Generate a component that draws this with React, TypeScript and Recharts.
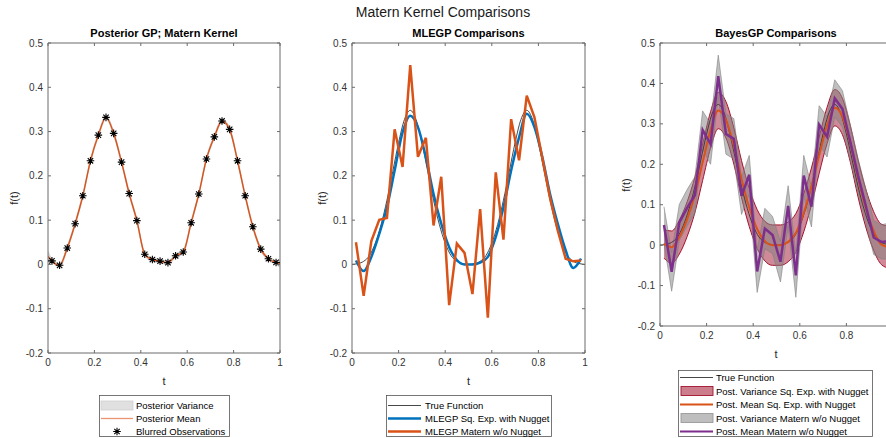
import React from 'react';
import { ComposedChart, Line, Area, XAxis, YAxis } from 'recharts';

// ---------- data ----------
const tObs = [0.017, 0.05, 0.083, 0.117, 0.15, 0.183, 0.217, 0.25, 0.283, 0.317, 0.35, 0.383, 0.417, 0.45, 0.483,
  0.517, 0.55, 0.583, 0.617, 0.65, 0.683, 0.717, 0.75, 0.783, 0.817, 0.85, 0.883, 0.917, 0.95, 0.983];
const tMean1 = [0, 0.017, 0.05, 0.083, 0.117, 0.15, 0.183, 0.217, 0.25, 0.283, 0.317, 0.35, 0.383, 0.417, 0.45, 0.483,
  0.517, 0.55, 0.583, 0.617, 0.65, 0.683, 0.717, 0.75, 0.783, 0.817, 0.85, 0.883, 0.917, 0.95, 0.983, 1];
const tTrue = [0, 0.025, 0.05, 0.075, 0.1, 0.125, 0.15, 0.175, 0.2, 0.225, 0.25, 0.275, 0.3, 0.325, 0.35, 0.375, 0.4,
  0.425, 0.45, 0.475, 0.5, 0.525, 0.55, 0.575, 0.6, 0.625, 0.65, 0.675, 0.7, 0.725, 0.75, 0.775, 0.8, 0.825, 0.85,
  0.875, 0.9, 0.925, 0.95, 0.975, 1];
const trueFunction = [0, 0.002, 0.007, 0.02, 0.048, 0.09, 0.145, 0.21, 0.275, 0.327, 0.348, 0.327, 0.275, 0.21, 0.145,
  0.09, 0.048, 0.02, 0.007, 0.002, 0, 0.002, 0.007, 0.02, 0.048, 0.09, 0.145, 0.21, 0.275, 0.327, 0.348, 0.327, 0.275,
  0.21, 0.145, 0.09, 0.048, 0.02, 0.007, 0.002, 0];

// Panel 1
const blurredObs = [0.008, -0.002, 0.037, 0.092, 0.155, 0.234, 0.292, 0.332, 0.296, 0.231, 0.16, 0.099, 0.023, 0.011,
  0.0075, 0.004, 0.0195, 0.028, 0.094, 0.159, 0.238, 0.288, 0.324, 0.305, 0.234, 0.155, 0.085, 0.0345, 0.0128, 0.0045];
const posteriorMean = [0.018, 0.008, -0.002, 0.037, 0.092, 0.155, 0.234, 0.292, 0.332, 0.296, 0.231, 0.16, 0.099, 0.023,
  0.011, 0.0075, 0.004, 0.0195, 0.028, 0.094, 0.159, 0.238, 0.288, 0.324, 0.305, 0.234, 0.155, 0.085, 0.0345, 0.0128,
  0.0045, 0.002];
const posteriorHalfWidth = [0.012, 0.004, 0.004, 0.004, 0.004, 0.004, 0.004, 0.004, 0.004, 0.004, 0.004, 0.004, 0.004,
  0.004, 0.004, 0.004, 0.004, 0.004, 0.004, 0.004, 0.004, 0.004, 0.004, 0.004, 0.004, 0.004, 0.004, 0.004, 0.004,
  0.004, 0.004, 0.008];

// Panel 2
const mlegpSqExp = [0.009, -0.015, 0.017, 0.069, 0.129, 0.212, 0.298, 0.336, 0.31, 0.242, 0.159, 0.092, 0.039, 0.01,
  0.0, 0.0, 0.004, 0.017, 0.062, 0.129, 0.212, 0.287, 0.34, 0.31, 0.242, 0.159, 0.092, 0.032, -0.008, 0.013];
const mlegpMatern = [0.05, -0.071, 0.053, 0.101, 0.105, 0.305, 0.22, 0.45, 0.243, 0.286, 0.088, 0.198, -0.092, 0.047,
  0.026, -0.067, 0.125, -0.12, 0.208, 0.056, 0.328, 0.235, 0.381, 0.332, 0.24, 0.15, 0.077, 0.013, 0.007, 0.009];

// Panel 3
const bayesSqExpMean = [0.003, -0.005, 0.02, 0.065, 0.125, 0.205, 0.285, 0.333, 0.31, 0.245, 0.163, 0.093, 0.04, 0.01,
  0.0, 0.0, 0.008, 0.03, 0.08, 0.145, 0.222, 0.296, 0.34, 0.318, 0.25, 0.165, 0.092, 0.035, 0.002, -0.005];
const bayesSqExpHalf = [0.035, 0.04, 0.042, 0.043, 0.044, 0.045, 0.045, 0.045, 0.045, 0.045, 0.046, 0.047, 0.048, 0.049,
  0.05, 0.05, 0.049, 0.048, 0.047, 0.046, 0.045, 0.045, 0.045, 0.045, 0.045, 0.046, 0.047, 0.048, 0.05, 0.052];
const bayesMaternMean = [0.05, -0.066, 0.056, 0.093, 0.124, 0.285, 0.25, 0.418, 0.275, 0.263, 0.122, 0.174, -0.065,
  0.041, 0.025, -0.041, 0.097, -0.075, 0.172, 0.095, 0.298, 0.268, 0.363, 0.337, 0.255, 0.172, 0.098, 0.019, 0.008, 0.01];
const bayesMaternHalf = [0.045, 0.048, 0.045, 0.045, 0.045, 0.047, 0.05, 0.052, 0.05, 0.05, 0.046, 0.048, 0.052, 0.05,
  0.046, 0.05, 0.05, 0.054, 0.05, 0.05, 0.047, 0.05, 0.046, 0.045, 0.042, 0.042, 0.042, 0.042, 0.042, 0.045];

const xTicks = [0, 0.2, 0.4, 0.6, 0.8, 1];
const yTicks = [-0.2, -0.1, 0, 0.1, 0.2, 0.3, 0.4, 0.5];

const mainTitle = 'Matern Kernel Comparisons';
const panelTitles = ['Posterior GP; Matern Kernel', 'MLEGP Comparisons', 'BayesGP Comparisons'];
const legend1 = ['Posterior Variance', 'Posterior Mean', 'Blurred Observations'];
const legend2 = ['True Function', 'MLEGP Sq. Exp. with Nugget', 'MLEGP Matern w/o Nugget'];
const legend3 = ['True Function', 'Post. Variance Sq. Exp. with Nugget', 'Post. Mean Sq. Exp. with Nugget',
  'Post. Variance Matern w/o Nugget', 'Post. Mean Matern w/o Nugget'];

// ---------- builders ----------
const zip = (ts: number[], vs: number[]) => ts.map((t, i) => ({ t, v: vs[i] }));
const band = (ts: number[], m: number[], h: number[]) => ts.map((t, i) => ({ t, lo: m[i] - h[i], hi: m[i] + h[i] }));

const trueData = zip(tTrue, trueFunction);
const p1Band = band(tMean1, posteriorMean, posteriorHalfWidth);
const p1Mean = zip(tMean1, posteriorMean);
const p1Obs = zip(tObs, blurredObs);
const p2Sq = zip(tObs, mlegpSqExp);
const p2Mat = zip(tObs, mlegpMatern);
const p3SqBand = band(tObs, bayesSqExpMean, bayesSqExpHalf);
const p3SqMean = zip(tObs, bayesSqExpMean);
const p3MatBand = band(tObs, bayesMaternMean, bayesMaternHalf);
const p3MatMean = zip(tObs, bayesMaternMean);

// ---------- styling ----------
const FONT = '"Liberation Sans", Arial, Helvetica, sans-serif';
const AX = '#6b6b6b';
const TICK_TXT = '#333333';
const TL = 3;

const fmt = (v: number) => (Math.abs(v) < 1e-9 ? '0' : Number.isInteger(v) ? String(v) : v.toFixed(1));

const BottomTick = (p: any) => {
  const { x, y, payload, maxX } = p;
  const showText = maxX == null || x <= maxX;
  return (
    <g>
      <line x1={x} x2={x} y1={y} y2={y - TL} stroke={AX} strokeWidth={1} />
      {showText && (
        <text x={x} y={y + 13} textAnchor="middle" fontSize={10} fontFamily={FONT} fill={TICK_TXT}>{fmt(payload.value)}</text>
      )}
    </g>
  );
};
const TopTick = (p: any) => {
  const { x, y } = p;
  return <line x1={x} x2={x} y1={y} y2={y + TL} stroke={AX} strokeWidth={1} />;
};
const LeftTick = (p: any) => {
  const { x, y, payload } = p;
  return (
    <g>
      <line x1={x} x2={x + TL} y1={y} y2={y} stroke={AX} strokeWidth={1} />
      <text x={x - 5} y={y + 3.5} textAnchor="end" fontSize={10} fontFamily={FONT} fill={TICK_TXT}>{fmt(payload.value)}</text>
    </g>
  );
};
const RightTick = (p: any) => {
  const { x, y } = p;
  return <line x1={x} x2={x - TL} y1={y} y2={y} stroke={AX} strokeWidth={1} />;
};

const StarDot = (p: any) => {
  const { cx, cy } = p;
  if (cx == null || cy == null) return null;
  const r = 3.8;
  const d = 2.7;
  return (
    <path
      d={`M${cx - r},${cy}H${cx + r}M${cx},${cy - r}V${cy + r}M${cx - d},${cy - d}L${cx + d},${cy + d}M${cx - d},${cy + d}L${cx + d},${cy - d}`}
      stroke="#000"
      strokeWidth={1.1}
      fill="none"
    />
  );
};

const axes = (maxLabelX?: number) => [
  <XAxis key="xb" type="number" dataKey="t" domain={[0, 1]} ticks={xTicks} interval={0} tickSize={0} tickMargin={0}
    height={30} axisLine={{ stroke: AX }} tickLine={false} tick={<BottomTick maxX={maxLabelX} />} allowDataOverflow />,
  <XAxis key="xt" xAxisId="top" orientation="top" type="number" dataKey="t" domain={[0, 1]} ticks={xTicks} interval={0}
    tickSize={0} tickMargin={0} height={1} axisLine={{ stroke: AX }} tickLine={false} tick={<TopTick />} allowDataOverflow />,
  <YAxis key="yl" type="number" domain={[-0.2, 0.5]} ticks={yTicks} interval={0} tickSize={0} tickMargin={0} width={30}
    axisLine={{ stroke: AX }} tickLine={false} tick={<LeftTick />} allowDataOverflow />,
  <YAxis key="yr" yAxisId="right" orientation="right" type="number" domain={[-0.2, 0.5]} ticks={yTicks} interval={0}
    tickSize={0} tickMargin={0} width={1} axisLine={{ stroke: AX }} tickLine={false} tick={<RightTick />} allowDataOverflow />,
];

const ORANGE = '#D95319';
const BLUE = '#0072BD';
const PURPLE = '#7E2F8E';
const DARKRED = '#A2142F';

const LegendBox = ({ x, y, w, h }: any) => (
  <rect x={x} y={y} width={w} height={h} fill="#fff" stroke="#555" strokeWidth={0.8} />
);

const Overlay = () => (
  <svg width={886} height={438} style={{ position: 'absolute', left: 0, top: 0, pointerEvents: 'none' }} fontFamily={FONT}>
    <text x={443} y={17} textAnchor="middle" fontSize={14} fill="#1a1a1a">{mainTitle}</text>
    <text x={164} y={37} textAnchor="middle" fontSize={11} fontWeight="bold" fill="#000">{panelTitles[0]}</text>
    <text x={468.5} y={37} textAnchor="middle" fontSize={11} fontWeight="bold" fill="#000">{panelTitles[1]}</text>
    <text x={776} y={37} textAnchor="middle" fontSize={11} fontWeight="bold" fill="#000">{panelTitles[2]}</text>

    <text transform="translate(18,198) rotate(-90)" textAnchor="middle" fontSize={11} fill="#262626">f(t)</text>
    <text transform="translate(326,198) rotate(-90)" textAnchor="middle" fontSize={11} fill="#262626">f(t)</text>
    <text transform="translate(630,185) rotate(-90)" textAnchor="middle" fontSize={11} fill="#262626">f(t)</text>
    <text x={164} y={385} textAnchor="middle" fontSize={11} fill="#262626">t</text>
    <text x={468.5} y={385} textAnchor="middle" fontSize={11} fill="#262626">t</text>
    <text x={776} y={358} textAnchor="middle" fontSize={11} fill="#262626">t</text>

    {/* legend 1 */}
    <LegendBox x={99.5} y={395.5} w={130} h={41} />
    <rect x={101} y={401} width={32} height={9} fill="#E0E0E0" stroke="#CFCFCF" strokeWidth={0.8} />
    <line x1={101} x2={133} y1={418.5} y2={418.5} stroke="#EA9470" strokeWidth={1.3} />
    <StarDot cx={117} cy={431.5} />
    <text x={136} y={408.5} fontSize={9.5} fill="#000">{legend1[0]}</text>
    <text x={136} y={422} fontSize={9.5} fill="#000">{legend1[1]}</text>
    <text x={136} y={435} fontSize={9.5} fill="#000">{legend1[2]}</text>

    {/* legend 2 */}
    <LegendBox x={386.5} y={395.5} w={165} h={41} />
    <line x1={388} x2={421} y1={405.5} y2={405.5} stroke="#333" strokeWidth={0.9} />
    <line x1={388} x2={421} y1={418.5} y2={418.5} stroke={BLUE} strokeWidth={2.5} />
    <line x1={388} x2={421} y1={431.5} y2={431.5} stroke={ORANGE} strokeWidth={2.5} />
    <text x={425} y={408.5} fontSize={9.5} fill="#000">{legend2[0]}</text>
    <text x={425} y={422} fontSize={9.5} fill="#000">{legend2[1]}</text>
    <text x={425} y={435} fontSize={9.5} fill="#000">{legend2[2]}</text>

    {/* legend 3 */}
    <LegendBox x={678.5} y={370.5} w={194} h={66} />
    <line x1={680} x2={713} y1={377.5} y2={377.5} stroke="#333" strokeWidth={0.9} />
    <rect x={681} y={386.5} width={32} height={9} fill={DARKRED} fillOpacity={0.55} stroke={DARKRED} strokeWidth={0.9} />
    <line x1={680} x2={713} y1={404.5} y2={404.5} stroke={ORANGE} strokeWidth={2} />
    <rect x={681} y={413.5} width={32} height={9} fill="#BEBEBE" stroke="#9A9A9A" strokeWidth={0.9} />
    <line x1={680} x2={713} y1={431.5} y2={431.5} stroke={PURPLE} strokeWidth={2} />
    <text x={716} y={381} fontSize={9.5} fill="#000">{legend3[0]}</text>
    <text x={716} y={394.5} fontSize={9.5} fill="#000">{legend3[1]}</text>
    <text x={716} y={408} fontSize={9.5} fill="#000">{legend3[2]}</text>
    <text x={716} y={421.5} fontSize={9.5} fill="#000">{legend3[3]}</text>
    <text x={716} y={435} fontSize={9.5} fill="#000">{legend3[4]}</text>
  </svg>
);

export default function App() {
  return (
    <div style={{ position: 'absolute', left: 0, top: 0, width: 886, height: 438, overflow: 'hidden', background: '#fff', fontFamily: FONT }}>
      {/* Panel 1 */}
      <div style={{ position: 'absolute', left: 0, top: 0 }}>
        <ComposedChart width={300} height={438} margin={{ top: 42, right: 19, bottom: 55, left: 18 }}>
          {axes()}
          <Area data={p1Band} dataKey={(d: any) => [d.lo, d.hi]} type="monotone" fill="#D9D9D9" fillOpacity={1}
            stroke="#D0D0D0" strokeWidth={1} isAnimationActive={false} activeDot={false} />
          <Line data={p1Mean} dataKey="v" type="monotone" stroke={ORANGE} strokeWidth={1.4} dot={false}
            activeDot={false} isAnimationActive={false} />
          <Line data={p1Obs} dataKey="v" stroke="none" dot={<StarDot />} activeDot={false} isAnimationActive={false} />
        </ComposedChart>
      </div>

      {/* Panel 2 */}
      <div style={{ position: 'absolute', left: 300, top: 0 }}>
        <ComposedChart width={300} height={438} margin={{ top: 42, right: 14, bottom: 55, left: 22 }}>
          {axes()}
          <Line data={trueData} dataKey="v" type="monotone" stroke="#333" strokeWidth={0.9} dot={false}
            activeDot={false} isAnimationActive={false} />
          <Line data={p2Sq} dataKey="v" type="monotone" stroke={BLUE} strokeWidth={2.5} dot={false}
            activeDot={false} isAnimationActive={false} />
          <Line data={p2Mat} dataKey="v" type="linear" stroke={ORANGE} strokeWidth={2.5} dot={false}
            activeDot={false} isAnimationActive={false} />
        </ComposedChart>
      </div>

      {/* Panel 3 */}
      <div style={{ position: 'absolute', left: 600, top: 0 }}>
        <ComposedChart width={300} height={438} margin={{ top: 42, right: 6, bottom: 82, left: 30 }}>
          {axes(280)}
          <Line data={trueData} dataKey="v" type="monotone" stroke="#333" strokeWidth={0.9} dot={false}
            activeDot={false} isAnimationActive={false} />
          <Area data={p3SqBand} dataKey={(d: any) => [d.lo, d.hi]} type="monotone" fill={DARKRED} fillOpacity={0.5}
            stroke={DARKRED} strokeWidth={1} isAnimationActive={false} activeDot={false} />
          <Line data={p3SqMean} dataKey="v" type="monotone" stroke={ORANGE} strokeWidth={2} dot={false}
            activeDot={false} isAnimationActive={false} />
          <Area data={p3MatBand} dataKey={(d: any) => [d.lo, d.hi]} type="linear" fill="#808080" fillOpacity={0.5}
            stroke="#808080" strokeOpacity={0.6} strokeWidth={1} isAnimationActive={false} activeDot={false} />
          <Line data={p3MatMean} dataKey="v" type="linear" stroke={PURPLE} strokeWidth={2.5} dot={false}
            activeDot={false} isAnimationActive={false} />
        </ComposedChart>
      </div>

      <Overlay />
    </div>
  );
}
